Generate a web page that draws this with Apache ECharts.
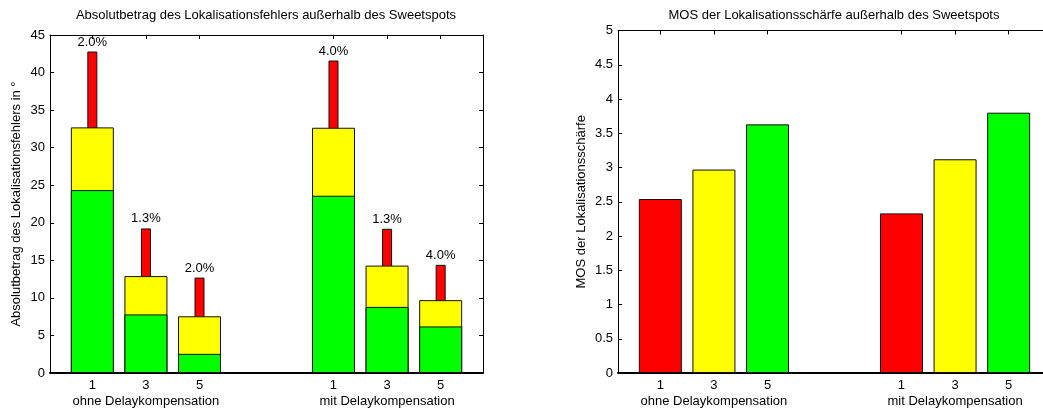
<!DOCTYPE html>
<html>
<head>
<meta charset="utf-8">
<script src="https://cdn.jsdelivr.net/npm/echarts@6/dist/echarts.min.js"></script>
<style>
  html, body { margin: 0; padding: 0; background: #fff; }
  #main { width: 1043px; height: 410px; }
</style>
</head>
<body>
<div id="main"></div>
<script>
    'use strict';
    // bar positions: two groups of three, 2.5 units apart
    var xPos = [1, 2, 3, 5.5, 6.5, 7.5];
    var xMin = 0.21, xMax = 8.29;
    var tickLabels = ['1', '3', '5'];
    var groupLabels = ['ohne Delaykompensation', 'mit Delaykompensation'];

    // left chart: tops of the green / yellow / red parts (degrees)
    var greenTop = [24.35, 7.8, 2.55, 23.6, 8.8, 6.2];
    var yellowTop = [32.7, 12.9, 7.55, 32.65, 14.3, 9.7];
    var redTop = [42.8, 19.25, 12.7, 41.6, 19.2, 14.4];
    var redPct = ['2.0%', '1.3%', '2.0%', '4.0%', '1.3%', '4.0%'];

    // right chart: MOS
    var mosValues = [2.54, 2.97, 3.63, 2.33, 3.12, 3.80];
    var mosColors = ['#ff0000', '#ffff00', '#00ff00', '#ff0000', '#ffff00', '#00ff00'];

    var FONT = '"Liberation Sans", Arial, Helvetica, sans-serif';
    var FS = 13;
    var border = { borderColor: '#111', borderWidth: 1 };

    function pairs(vals) {
        return xPos.map(function (x, i) { return [x, vals[i]]; });
    }

    function bottomAxis(gridIndex) {
        return {
            type: 'value', gridIndex: gridIndex, position: 'bottom',
            min: xMin, max: xMax,
            splitLine: { show: false },
            axisLine: { onZero: false, lineStyle: { color: '#000', width: 2 } },
            axisTick: { show: false },
            axisLabel: {
                // blank labels at both ends so the min/max check keeps the real ones
                customValues: [xMin].concat(xPos, [xMax]),
                margin: 4, fontSize: FS, lineHeight: 16,
                color: '#000', fontFamily: FONT,
                formatter: function (v) {
                    var i = xPos.indexOf(v);
                    if (i < 0) return ' ';
                    var s = tickLabels[i % 3];
                    if (i % 3 === 1) s += '\n' + groupLabels[Math.floor(i / 3)];
                    return s;
                }
            }
        };
    }

    function topAxis(gridIndex) {
        return {
            type: 'value', gridIndex: gridIndex, position: 'top',
            min: xMin, max: xMax,
            splitLine: { show: false },
            axisLine: { onZero: false, lineStyle: { color: '#000', width: 1 } },
            axisTick: { inside: true, length: 4, customValues: xPos, lineStyle: { color: '#000' } },
            axisLabel: { show: false }
        };
    }

    function yAxisPair(gridIndex, max, interval, name, nameGap) {
        return [{
            type: 'value', gridIndex: gridIndex, position: 'left',
            min: 0, max: max, interval: interval,
            name: name, nameLocation: 'middle', nameGap: nameGap,
            nameTextStyle: { fontSize: FS, color: '#000', fontFamily: FONT },
            splitLine: { show: false },
            axisLine: { show: true, lineStyle: { color: '#000', width: 1 } },
            axisTick: { show: true, inside: true, length: 4, lineStyle: { color: '#000' } },
            axisLabel: { margin: 5, fontSize: FS, color: '#000', fontFamily: FONT }
        }, {
            type: 'value', gridIndex: gridIndex, position: 'right',
            min: 0, max: max, interval: interval,
            splitLine: { show: false },
            axisLine: { show: true, lineStyle: { color: '#000', width: 1 } },
            axisTick: { show: true, inside: true, length: 4, lineStyle: { color: '#000' } },
            axisLabel: { show: false }
        }];
    }

    var option = {
        animation: false,
        backgroundColor: '#fff',
        textStyle: { fontFamily: FONT },
        title: [{
            text: 'Absolutbetrag des Lokalisationsfehlers außerhalb des Sweetspots',
            left: 266, top: 9, padding: 0, textAlign: 'center',
            textStyle: { fontSize: FS, fontWeight: 'normal', color: '#000', fontFamily: FONT }
        }, {
            text: 'MOS der Lokalisationsschärfe außerhalb des Sweetspots',
            left: 834, top: 9, padding: 0, textAlign: 'center',
            textStyle: { fontSize: FS, fontWeight: 'normal', color: '#000', fontFamily: FONT }
        }],
        grid: [
            { left: 50, top: 35, width: 433, height: 338, outerBoundsMode: 'none' },
            { left: 618, top: 30.5, width: 433, height: 342.5, outerBoundsMode: 'none' }
        ],
        xAxis: [bottomAxis(0), topAxis(0), bottomAxis(1), topAxis(1)],
        yAxis: yAxisPair(0, 45, 5, 'Absolutbetrag des Lokalisationsfehlers in °', 27)
            .concat(yAxisPair(1, 5, 0.5, 'MOS der Lokalisationsschärfe', 30)),
        series: [{
            name: 'rot', type: 'bar', xAxisIndex: 1, yAxisIndex: 0, z: 1,
            barWidth: 10, data: pairs(redTop),
            itemStyle: Object.assign({ color: '#ff0000' }, border),
            label: {
                show: true, position: 'top', distance: 3, fontSize: FS, color: '#000', fontFamily: FONT,
                formatter: function (p) { return redPct[p.dataIndex]; }
            }
        }, {
            name: 'gelb', type: 'bar', xAxisIndex: 0, yAxisIndex: 0, z: 2,
            barWidth: 43, barGap: '-100%', data: pairs(yellowTop),
            itemStyle: Object.assign({ color: '#ffff00' }, border)
        }, {
            name: 'grün', type: 'bar', xAxisIndex: 0, yAxisIndex: 0, z: 3,
            barWidth: 43, barGap: '-100%', data: pairs(greenTop),
            itemStyle: Object.assign({ color: '#00ff00' }, border)
        }, {
            name: 'MOS', type: 'bar', xAxisIndex: 2, yAxisIndex: 2,
            barWidth: 43,
            data: xPos.map(function (x, i) {
                return { value: [x, mosValues[i]], itemStyle: { color: mosColors[i] } };
            }),
            itemStyle: border
        }]
    };

    var chart = echarts.init(document.getElementById('main'));
    chart.setOption(option);
</script>
</body>
</html>
